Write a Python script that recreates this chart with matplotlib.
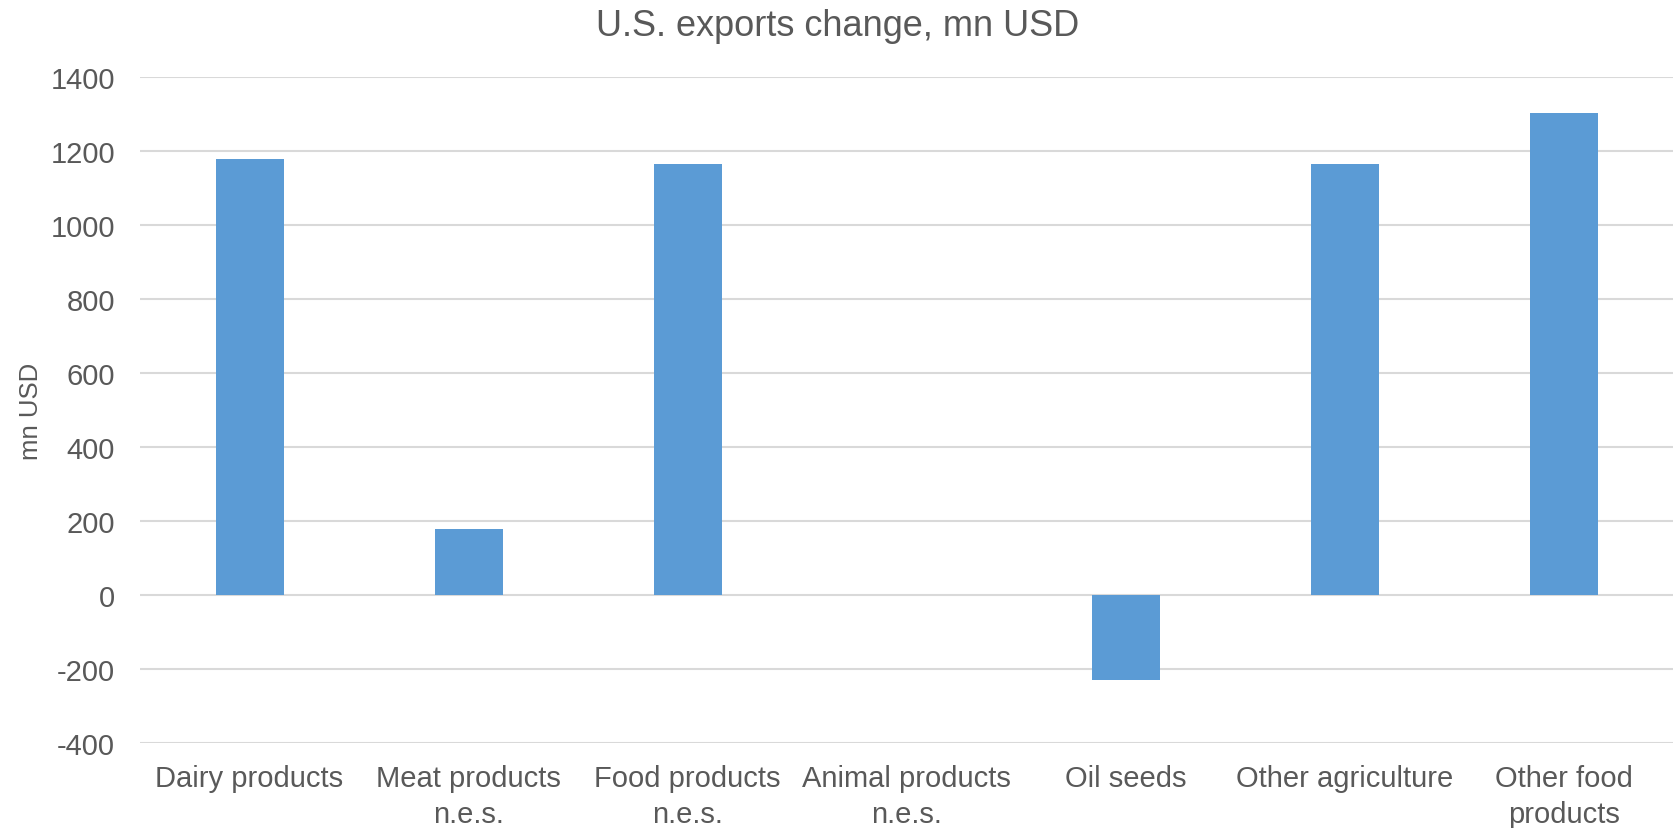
import matplotlib
matplotlib.use("Agg")
import matplotlib.pyplot as plt
import numpy as np

plt.rcParams['font.family'] = ['Liberation Sans', 'DejaVu Sans']
plt.rcParams['axes.unicode_minus'] = False

categories = ['Dairy products', 'Meat products\nn.e.s.', 'Food products\nn.e.s.',
              'Animal products\nn.e.s.', 'Oil seeds', 'Other agriculture',
              'Other food\nproducts']
export_change = [1180, 179, 1166, 0, -230, 1166, 1304]

text_color = '#595959'
fig = plt.figure(figsize=(16.75, 8.29), dpi=100)
ax = fig.add_axes([0.0836, 0.1025, 0.9154, 0.803])

x = np.arange(len(categories))
ax.bar(x, export_change, width=0.31, color='#5B9BD5', zorder=3)

ax.set_xlim(-0.5, len(categories) - 0.5)
ax.set_ylim(-400, 1400)
ax.set_yticks(np.arange(-400, 1401, 200))
ax.yaxis.grid(True, color='#D9D9D9', linewidth=1.5, zorder=0)
ax.set_xticks(x)
ax.set_xticklabels(categories, fontsize=21, color=text_color, linespacing=1.38)
ax.tick_params(axis='y', labelsize=21, labelcolor=text_color, length=0, pad=18)
ax.tick_params(axis='x', length=0, pad=15)
for s in ax.spines.values():
    s.set_visible(False)

ax.set_ylabel('mn USD', fontsize=18.5, color=text_color, labelpad=5)
fig.text(0.5, 0.968, 'U.S. exports change, mn USD', ha='center', va='center',
         fontsize=26, color=text_color)

fig.savefig('out.png', dpi=100)
